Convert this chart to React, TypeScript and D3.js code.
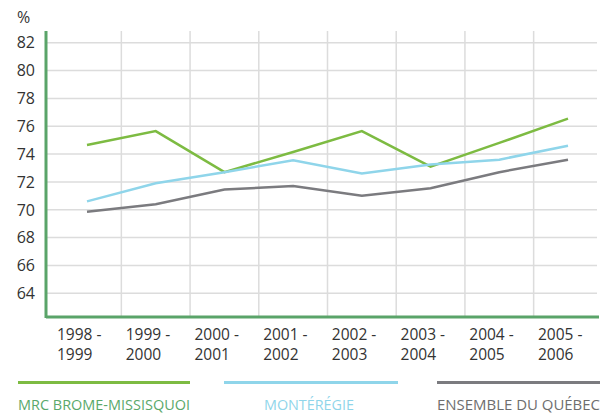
import React, { useEffect, useRef } from "react";
import * as d3 from "d3";

const periods = [
  ["1998 -", "1999"],
  ["1999 -", "2000"],
  ["2000 -", "2001"],
  ["2001 -", "2002"],
  ["2002 -", "2003"],
  ["2003 -", "2004"],
  ["2004 -", "2005"],
  ["2005 -", "2006"],
];
const brome = [74.65, 75.65, 72.7, 74.15, 75.65, 73.1, 74.8, 76.55];
const monteregie = [70.6, 71.9, 72.7, 73.55, 72.6, 73.25, 73.6, 74.6];
const quebec = [69.85, 70.4, 71.45, 71.7, 71.0, 71.55, 72.7, 73.6];
const yTicks = [64, 66, 68, 70, 72, 74, 76, 78, 80, 82];

const series = [
  { name: "MRC BROME-MISSISQUOI", values: brome, color: "#7dbb42", text: "#5aa86a" },
  { name: "MONTÉRÉGIE", values: monteregie, color: "#8fd5ea", text: "#8fd5ea" },
  { name: "ENSEMBLE DU QUÉBEC", values: quebec, color: "#7b7b7f", text: "#6e6e6e" },
];

export default function App() {
  const svgRef = useRef(null);

  useEffect(() => {
    const svg = d3.select(svgRef.current);
    svg.selectAll("*").remove();

    const font = "'Open Sans', sans-serif";
    const left = 46, right = 598, top = 31, bottom = 317;
    const keys = periods.map((p) => p.join(" "));

    const x = d3.scalePoint().domain(keys).range([87, 568]);
    const y = d3.scaleLinear().domain([64, 82]).range([293.3, 42.7]);

    // grid
    const grid = svg.append("g").attr("stroke", "#dcdcdc").attr("stroke-width", 1.5);
    yTicks.forEach((t) => {
      grid.append("line").attr("x1", left).attr("x2", right - 1).attr("y1", y(t)).attr("y2", y(t));
    });
    keys.slice(1).forEach((k, i) => {
      const xm = (x(keys[i]) + x(k)) / 2;
      grid.append("line").attr("x1", xm).attr("x2", xm).attr("y1", top).attr("y2", bottom);
    });

    // axes
    svg.append("line").attr("x1", left).attr("x2", left).attr("y1", top).attr("y2", bottom + 1)
      .attr("stroke", "#5aa469").attr("stroke-width", 3);
    svg.append("line").attr("x1", left).attr("x2", right + 1).attr("y1", bottom).attr("y2", bottom)
      .attr("stroke", "#5aa469").attr("stroke-width", 3);

    // y labels
    svg.append("text").attr("x", 17).attr("y", 23).text("%")
      .attr("font-family", font).attr("font-size", 16).attr("fill", "#333");
    yTicks.forEach((t) => {
      svg.append("text").attr("x", 35).attr("y", y(t)).attr("dy", "0.36em")
        .attr("text-anchor", "end").text(t)
        .attr("font-family", font).attr("font-size", 16).attr("fill", "#333");
    });

    // x labels (two lines, separate text nodes)
    periods.forEach((p, i) => {
      p.forEach((txt, j) => {
        svg.append("text").attr("x", x(keys[i]) - 30).attr("y", 340 + j * 20).text(txt)
          .attr("font-family", font).attr("font-size", 15.5).attr("fill", "#333");
      });
    });

    // lines
    const line = d3.line<number>().x((d, i) => x(keys[i])).y((d) => y(d));
    series.forEach((s) => {
      svg.append("path").datum(s.values).attr("d", line)
        .attr("fill", "none").attr("stroke", s.color).attr("stroke-width", 2.5);
    });

    // legend
    const legendX = [[18, 190], [224, 398], [437, 600]];
    series.forEach((s, i) => {
      const [x0, x1] = legendX[i];
      svg.append("line").attr("x1", x0).attr("x2", x1).attr("y1", 382.5).attr("y2", 382.5)
        .attr("stroke", s.color).attr("stroke-width", 3);
    });
    const labels = [[18, 172], [264, 90], [437, 163]];
    series.forEach((s, i) => {
      const [lx, lw] = labels[i];
      svg.append("text").attr("x", lx).attr("y", 410).text(s.name)
        .attr("textLength", lw).attr("lengthAdjust", "spacingAndGlyphs")
        .attr("font-family", font).attr("font-size", 15).attr("fill", s.text);
    });
  }, []);

  return (
    <svg
      ref={svgRef}
      width={615}
      height={414}
      style={{ position: "absolute", left: 0, top: 0, background: "#fff" }}
    />
  );
}
